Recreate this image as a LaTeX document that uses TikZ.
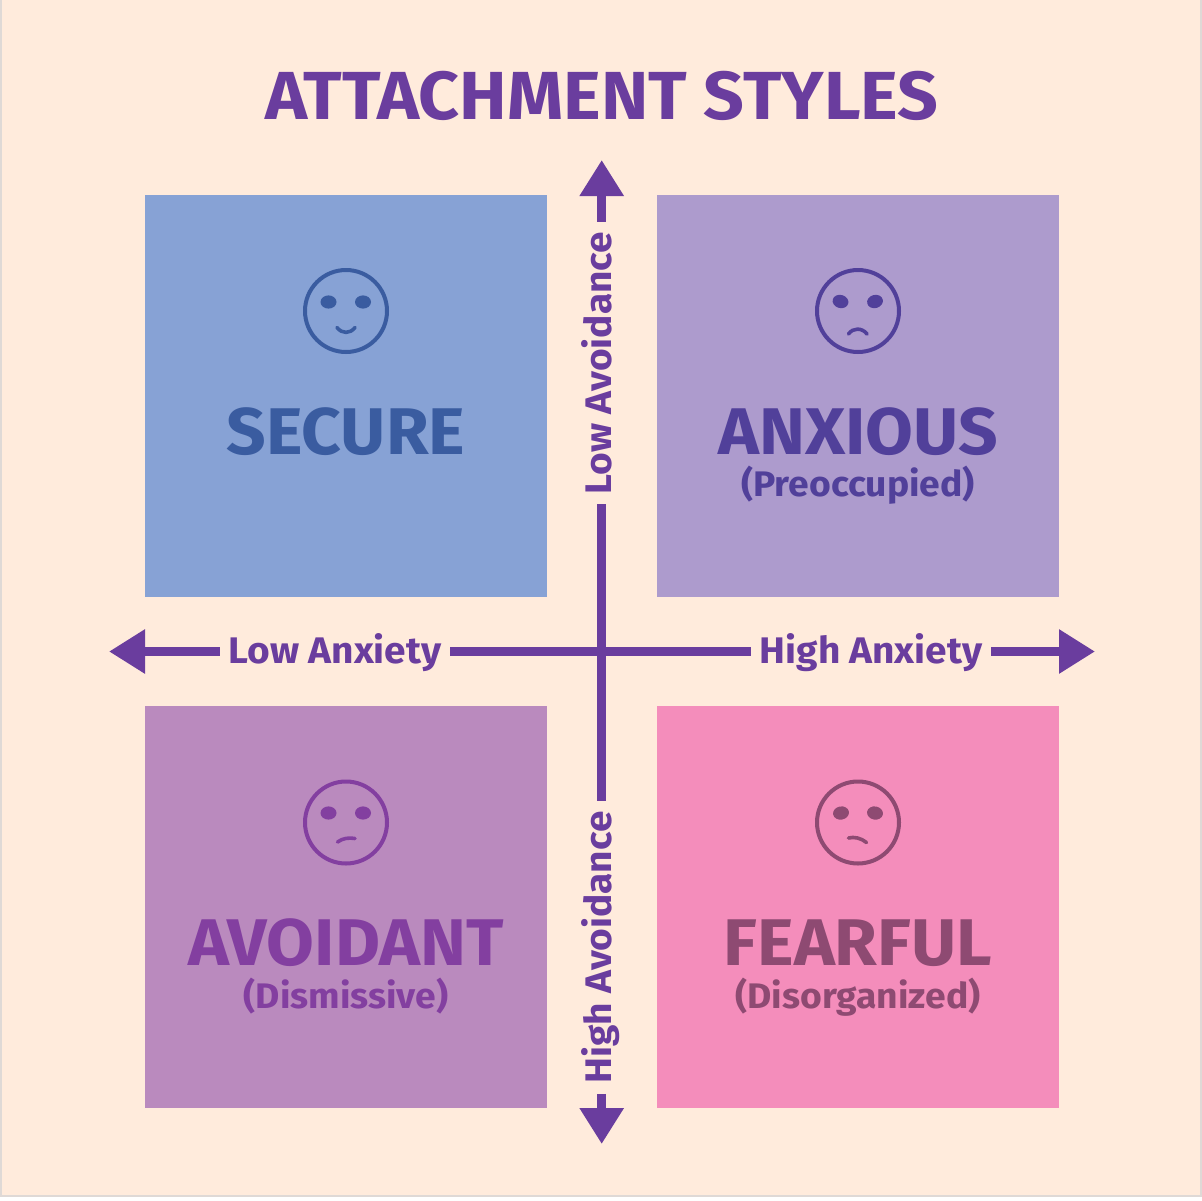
\documentclass[tikz,border=0pt]{standalone}
\usepackage{fontspec}
\setmainfont[FakeStretch=1.05]{Fira Sans}
\usetikzlibrary{arrows.meta}
\definecolor{bgc}{HTML}{FFEBDC}
\definecolor{edgec}{HTML}{DFD9D6}
\definecolor{axisc}{HTML}{6A3D9E}
\definecolor{boxa}{HTML}{87A2D5}
\definecolor{boxb}{HTML}{AD9BCD}
\definecolor{boxc}{HTML}{BA8ABE}
\definecolor{boxd}{HTML}{F48DBB}
\definecolor{inka}{HTML}{3A5CA0}
\definecolor{inkb}{HTML}{51409A}
\definecolor{inkc}{HTML}{833FA0}
\definecolor{inkd}{HTML}{8E4A72}
\tikzset{
  quad/.style={minimum size=402pt,inner sep=0pt,outer sep=0pt},
  head/.style={font=\fontsize{66}{66}\selectfont\bfseries,inner sep=0pt,text height=48pt,text depth=0pt},
  sub/.style={font=\fontsize{35.5}{36}\selectfont\bfseries,inner sep=0pt,text height=27pt,text depth=8pt},
  axlabel/.style={font=\fontsize{37}{37}\selectfont\bfseries,text=axisc,inner sep=0pt,text height=28pt,text depth=8pt},
  axline/.style={draw=axisc,line width=9pt},
  axarrow/.style={axline,-{Triangle[width=42pt,length=36pt]}},
  facering/.style={circle,minimum size=82pt,inner sep=0pt,line width=4pt},
  eye/.style={x radius=8pt,y radius=6.6pt},
  mouth/.style={line width=3.6pt,line cap=round}
}
\begin{document}
\begin{tikzpicture}[x=1pt,y=-1pt]
\useasboundingbox (0,0) rectangle (1202,1200);
\fill[edgec] (0,0) rectangle (1202,1200);
\fill[bgc] (2,-1) rectangle (1199.5,1195);
\fill[white] (0,1196.5) rectangle (1202,1200);

\node[font=\fontsize{68}{68}\selectfont\bfseries,text=axisc,inner sep=0pt] (title) at (602,96) {ATTACHMENT STYLES};

\node[quad,fill=boxa] (q1) at (346,396) {};
\node[quad,fill=boxb] (q2) at (858,396) {};
\node[quad,fill=boxc] (q3) at (346,907) {};
\node[quad,fill=boxd] (q4) at (858,907) {};

% axes
\coordinate (tipT) at (601.7,160);
\coordinate (tipB) at (601.7,1144);
\coordinate (tipL) at (109,651.5);
\coordinate (tipR) at (1095,651.5);
\node[axlabel,rotate=90,inner xsep=10pt] (lav) at (601,363) {Low Avoidance};
\node[axlabel,rotate=90,inner xsep=10pt] (hav) at (601,947.5) {High Avoidance};
\node[axlabel,inner xsep=9pt] (lan) at (335,653) {Low Anxiety};
\node[axlabel,inner xsep=9pt] (han) at (871,653) {High Anxiety};
\draw[axarrow] (lav.east -| tipT) -- (tipT);
\draw[axarrow] (hav.west -| tipB) -- (tipB);
\draw[axarrow] (lan.west |- tipL) -- (tipL);
\draw[axarrow] (han.east |- tipR) -- (tipR);
\draw[axline] (lav.west -| tipT) -- (hav.east -| tipT);
\draw[axline] (lan.east |- tipL) -- (han.west |- tipR);

% secure
\node[head,text=inka] (t1) at (346,430) {SECURE};
\node[facering,draw=inka] (f1) at (346,311) {};
\fill[inka] (328.5,302) circle[eye];
\fill[inka] (363,302) circle[eye];
\draw[mouth,draw=inka] (337,327.5) .. controls (342,334) and (350,334) .. (355,327.5);

% anxious
\node[head,text=inkb] (t2) at (858,430) {ANXIOUS};
\node[sub,text=inkb] (s2) at (858,487) {(Preoccupied)};
\node[facering,draw=inkb] (f2) at (858,311) {};
\fill[inkb,rotate around={-15:(840.5,301.5)}] (840.5,301.5) circle[eye];
\fill[inkb,rotate around={15:(875,301.5)}] (875,301.5) circle[eye];
\draw[mouth,draw=inkb] (848.5,334) .. controls (853,327.5) and (862,327.5) .. (867,334);

% avoidant
\node[head,text=inkc] (t3) at (346,941.5) {AVOIDANT};
\node[sub,text=inkc] (s3) at (346,998.5) {(Dismissive)};
\node[facering,draw=inkc] (f3) at (346,822.5) {};
\fill[inkc] (328.5,813) circle[eye];
\fill[inkc] (363,813) circle[eye];
\draw[mouth,draw=inkc] (337.5,842) .. controls (343,838) and (349,837.5) .. (355,838.5);

% fearful
\node[head,text=inkd] (t4) at (858,941.5) {FEARFUL};
\node[sub,text=inkd] (s4) at (858,998.5) {(Disorganized)};
\node[facering,draw=inkd] (f4) at (858,822.5) {};
\fill[inkd,rotate around={10:(841,813)}] (841,813) circle[eye];
\fill[inkd,rotate around={-10:(875,813)}] (875,813) circle[eye];
\draw[mouth,draw=inkd] (848.5,838) .. controls (854,836.5) and (861,838) .. (866.5,842.5);
\end{tikzpicture}
\end{document}
